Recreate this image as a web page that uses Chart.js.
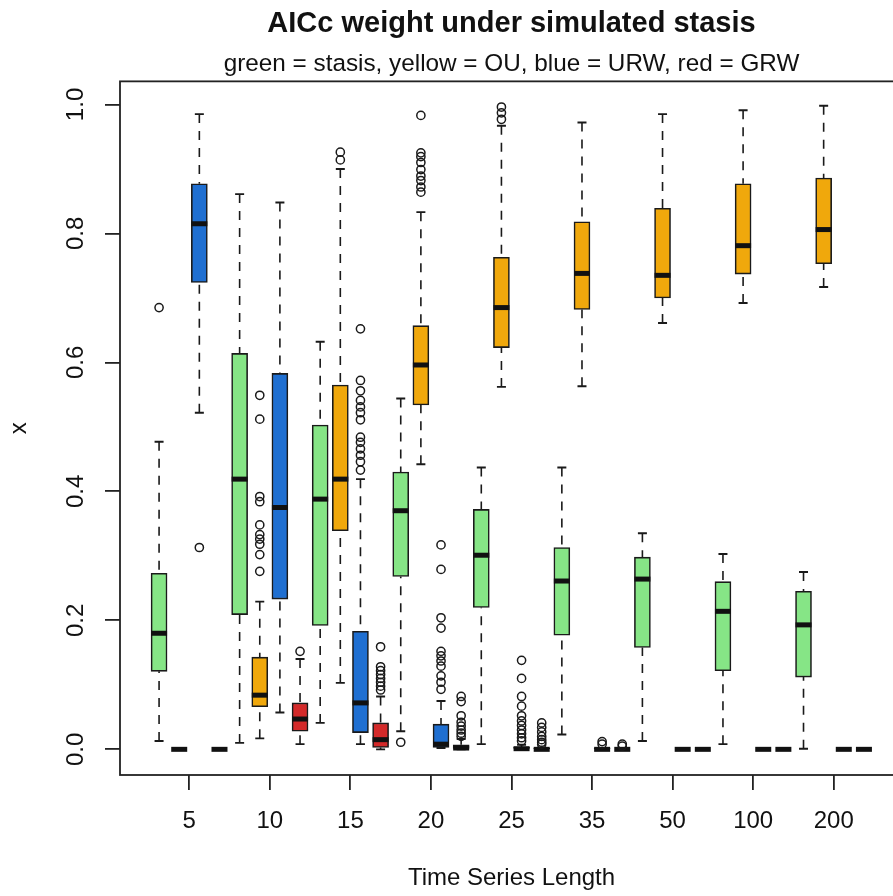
<!DOCTYPE html>
<html>
<head>
<meta charset="utf-8">
<script src="https://cdn.jsdelivr.net/npm/chart.js@4.4.1/dist/chart.umd.min.js"></script>
<style>
html,body{margin:0;padding:0;background:#fff;overflow:hidden;width:893px;height:896px}
#wrap{width:1023px;height:896px}
</style>
</head>
<body>
<div id="wrap"><canvas id="c" width="1023" height="896"></canvas></div>
<script>
// ---- data ----
const groupLabels = ['5', '10', '15', '20', '25', '35', '50', '100', '200'];
const modelNames = ['stasis', 'OU', 'URW', 'GRW'];
const modelColors = ['#86E586', '#F0A80C', '#1F6FD1', '#D42A2A'];
const yTickValues = [0, 0.2, 0.4, 0.6, 0.8, 1.0];
const yTickLabels = ['0.0', '0.2', '0.4', '0.6', '0.8', '1.0'];

// five-number summaries per group: [lower whisker, Q1, median, Q3, upper whisker]
const stasisStats = [
  [0.013, 0.121, 0.180, 0.273, 0.477],
  [0.010, 0.209, 0.419, 0.614, 0.861],
  [0.041, 0.192, 0.388, 0.503, 0.632],
  [0.028, 0.268, 0.370, 0.430, 0.544],
  [0.008, 0.220, 0.301, 0.372, 0.437],
  [0.023, 0.177, 0.261, 0.313, 0.437],
  [0.013, 0.158, 0.264, 0.298, 0.335],
  [0.008, 0.122, 0.214, 0.260, 0.303],
  [0.001, 0.112, 0.193, 0.245, 0.275]
];
const ouStats = [
  [0, 0, 0, 0, 0],
  [0.017, 0.066, 0.084, 0.143, 0.229],
  [0.103, 0.339, 0.419, 0.565, 0.900],
  [0.442, 0.534, 0.596, 0.657, 0.833],
  [0.562, 0.623, 0.685, 0.763, 0.967],
  [0.563, 0.682, 0.738, 0.818, 0.972],
  [0.661, 0.700, 0.735, 0.839, 0.985],
  [0.692, 0.737, 0.781, 0.877, 0.991],
  [0.717, 0.753, 0.806, 0.886, 0.998]
];
const urwStats = [
  [0.522, 0.724, 0.815, 0.877, 0.985],
  [0.057, 0.233, 0.375, 0.583, 0.848],
  [0.008, 0.026, 0.072, 0.183, 0.419],
  [0.002, 0.003, 0.008, 0.039, 0.075],
  [0, 0, 0.001, 0.003, 0.007],
  [0, 0, 0, 0.001, 0.002],
  [0, 0, 0, 0, 0],
  [0, 0, 0, 0, 0],
  [0, 0, 0, 0, 0]
];
const grwStats = [
  [0, 0, 0, 0, 0],
  [0.008, 0.028, 0.047, 0.072, 0.140],
  [0, 0.003, 0.015, 0.041, 0.082],
  [0, 0, 0.002, 0.007, 0.016],
  [0, 0, 0, 0.001, 0.003],
  [0, 0, 0, 0, 0.001],
  [0, 0, 0, 0, 0],
  [0, 0, 0, 0, 0],
  [0, 0, 0, 0, 0]
];

// outliers per group
const stasisOut = [[0.685], [], [], [0.011], [], [], [], [], []];
const ouOut = [
  [],
  [0.549, 0.512, 0.392, 0.384, 0.348, 0.333, 0.326, 0.318, 0.302, 0.276],
  [0.926, 0.914],
  [0.983, 0.925, 0.919, 0.910, 0.899, 0.889, 0.882, 0.872, 0.864],
  [0.996, 0.987, 0.977],
  [], [], [], []
];
const urwOut = [
  [0.313],
  [],
  [0.652, 0.572, 0.556, 0.541, 0.531, 0.522, 0.511, 0.484, 0.476, 0.466, 0.456, 0.446, 0.433],
  [0.317, 0.279, 0.204, 0.188, 0.152, 0.145, 0.137, 0.129, 0.114, 0.104, 0.093],
  [0.138, 0.110, 0.082, 0.067, 0.052, 0.044, 0.037, 0.030, 0.024, 0.018, 0.013],
  [0.012, 0.008],
  [], [], []
];
const grwOut = [
  [],
  [0.152],
  [0.159, 0.128, 0.122, 0.116, 0.110, 0.104, 0.098, 0.092],
  [0.082, 0.074, 0.052, 0.042, 0.036, 0.030, 0.025, 0.020],
  [0.041, 0.034, 0.027, 0.020, 0.015, 0.011, 0.008],
  [0.008, 0.005],
  [], [], []
];

// ---- chart ----
const boxStats = [stasisStats, ouStats, urwStats, grwStats];
const outStats = [stasisOut, ouOut, urwOut, grwOut];
const boxPos = (g, m) => g * 4 + m + 1;

Chart.defaults.font.family = '"Liberation Sans", Arial, sans-serif';
Chart.defaults.color = '#111';

const datasets = [];
boxStats.forEach((stats, m) => {
  datasets.push({
    type: 'bar',
    label: modelNames[m],
    data: stats.map((s, g) => ({x: boxPos(g, m), y: [s[1], s[3]]})),
    backgroundColor: modelColors[m],
    borderColor: '#1a1a1a',
    borderWidth: 1.6,
    borderSkipped: false,
    barThickness: 16,
    grouped: false,
    order: 2
  });
});
outStats.forEach((outs, m) => {
  const pts = [];
  outs.forEach((arr, g) => arr.forEach(v => pts.push({x: boxPos(g, m), y: v})));
  datasets.push({
    type: 'scatter',
    label: modelNames[m] + ' outliers',
    data: pts,
    pointStyle: 'circle',
    pointRadius: 4.1,
    borderWidth: 1.5,
    borderColor: '#1a1a1a',
    backgroundColor: 'rgba(0,0,0,0)',
    order: 1
  });
});

const boxParts = {
  id: 'boxParts',
  beforeDatasetsDraw(chart) {
    const {ctx, scales: {x, y}} = chart;
    ctx.save();
    ctx.strokeStyle = '#1a1a1a';
    boxStats.forEach((stats, m) => {
      stats.forEach((s, g) => {
        const px = x.getPixelForValue(boxPos(g, m));
        const yLo = y.getPixelForValue(s[0]), yQ1 = y.getPixelForValue(s[1]);
        const yQ3 = y.getPixelForValue(s[3]), yHi = y.getPixelForValue(s[4]);
        ctx.lineWidth = 1.6;
        ctx.setLineDash([9, 8]);
        ctx.beginPath();
        ctx.moveTo(px, yLo); ctx.lineTo(px, yQ1);
        ctx.moveTo(px, yHi); ctx.lineTo(px, yQ3);
        ctx.stroke();
        ctx.setLineDash([]);
        ctx.lineWidth = 1.9;
        ctx.beginPath();
        ctx.moveTo(px - 4.5, yLo); ctx.lineTo(px + 4.5, yLo);
        ctx.moveTo(px - 4.5, yHi); ctx.lineTo(px + 4.5, yHi);
        ctx.stroke();
      });
    });
    ctx.restore();
  },
  afterDatasetDraw(chart, args) {
    if (args.meta.type !== 'bar') return;
    const m = args.index;
    const {ctx, scales: {x, y}} = chart;
    ctx.save();
    ctx.strokeStyle = '#111';
    ctx.lineWidth = 5;
    ctx.lineCap = 'butt';
    boxStats[m].forEach((s, g) => {
      const px = x.getPixelForValue(boxPos(g, m));
      const py = y.getPixelForValue(s[2]);
      ctx.beginPath();
      ctx.moveTo(px - 8, py); ctx.lineTo(px + 8, py);
      ctx.stroke();
    });
    ctx.restore();
  },
  afterDraw(chart) {
    const {ctx, chartArea: a} = chart;
    ctx.save();
    ctx.strokeStyle = '#222';
    ctx.lineWidth = 1.8;
    ctx.strokeRect(a.left, a.top, a.right - a.left, a.bottom - a.top);
    ctx.restore();
  }
};

new Chart(document.getElementById('c'), {
  type: 'bar',
  data: {datasets},
  plugins: [boxParts],
  options: {
    responsive: false,
    animation: false,
    devicePixelRatio: 1,
    layout: {padding: 0},
    plugins: {
      legend: {display: false},
      tooltip: {enabled: false},
      title: {
        display: true,
        text: 'AICc weight under simulated stasis',
        color: '#111',
        font: {size: 29, weight: 'bold'},
        padding: {top: 6.5, bottom: 0}
      },
      subtitle: {
        display: true,
        text: 'green = stasis, yellow = OU, blue = URW, red = GRW',
        color: '#111',
        font: {size: 24.3},
        padding: {top: 8.5, bottom: 2.4}
      }
    },
    scales: {
      x: {
        type: 'linear',
        position: 'bottom',
        min: -0.94,
        max: 37.94,
        offset: false,
        afterBuildTicks: s => { s.ticks = groupLabels.map((l, i) => ({value: 4 * i + 2.5})); },
        afterFit: s => { s.height = 121; },
        ticks: {
          autoSkip: false, minRotation: 0, maxRotation: 0, padding: 17,
          color: '#111', font: {size: 24},
          callback: (v, i) => groupLabels[i]
        },
        grid: {display: true, drawOnChartArea: false, drawTicks: true, tickLength: 15, color: '#222', lineWidth: 1.8, offset: false},
        border: {display: false},
        title: {display: true, text: 'Time Series Length', color: '#111', font: {size: 24}, padding: {top: 0, bottom: 3}}
      },
      y: {
        type: 'linear',
        position: 'left',
        min: -0.0398,
        max: 1.0358,
        afterBuildTicks: s => { s.ticks = yTickValues.map(v => ({value: v})); },
        afterFit: s => { s.width = 120; },
        ticks: {
          minRotation: 90, maxRotation: 90, crossAlign: 'center', padding: 12,
          color: '#111', font: {size: 24},
          callback: (v, i) => yTickLabels[i]
        },
        grid: {display: true, drawOnChartArea: false, drawTicks: true, tickLength: 15, color: '#222', lineWidth: 1.8},
        border: {display: false},
        title: {display: true, text: 'x', color: '#111', font: {size: 24}, padding: {top: 5, bottom: 0}}
      },
      yRight: {
        type: 'linear',
        position: 'right',
        min: 0,
        max: 1,
        afterFit: s => { s.width = 120; },
        ticks: {display: false},
        grid: {display: false},
        border: {display: false}
      }
    }
  }
});
</script>
</body>
</html>
